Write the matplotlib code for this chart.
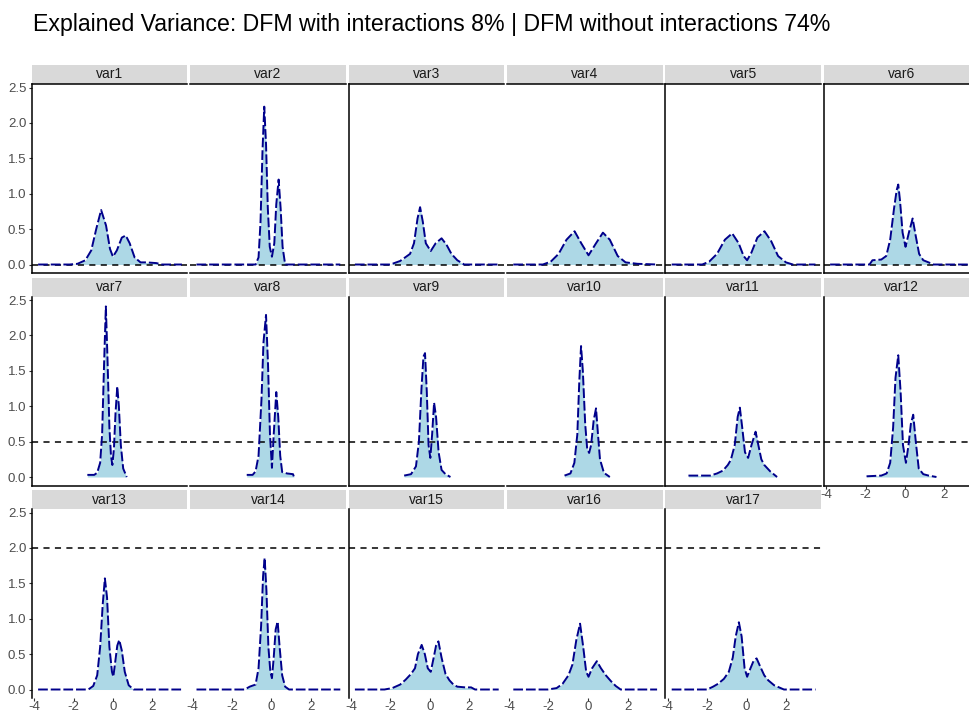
import matplotlib.pyplot as plt
from matplotlib.patches import Rectangle

plt.rcParams['font.family'] = ['Liberation Sans', 'DejaVu Sans']

title = "Explained Variance: DFM with interactions 8% | DFM without interactions 74%"

# density estimates per variable (x grid, density)
var1_x = [-3.8, -2.2, -1.8, -1.4, -1.1, -0.85, -0.6, -0.35, -0.15, 0.0, 0.2, 0.45, 0.65, 0.85, 1.1, 1.4, 1.7, 2.2, 2.5, 3.5]
var1_y = [0, 0, 0.01, 0.06, 0.2, 0.5, 0.77, 0.55, 0.22, 0.11, 0.2, 0.38, 0.41, 0.3, 0.1, 0.03, 0.03, 0.02, 0, 0]

var2_x = [-3.8, -0.8, -0.65, -0.55, -0.45, -0.36, -0.27, -0.18, -0.08, 0.03, 0.15, 0.25, 0.37, 0.47, 0.57, 0.7, 3.5]
var2_y = [0, 0, 0.1, 0.6, 1.6, 2.23, 1.7, 0.8, 0.25, 0.11, 0.3, 0.85, 1.2, 0.8, 0.25, 0, 0]

var3_x = [-3.8, -2.0, -1.5, -1.0, -0.8, -0.62, -0.49, -0.35, -0.2, 0.05, 0.3, 0.6, 0.85, 1.1, 1.4, 1.75, 3.5]
var3_y = [0, 0, 0.05, 0.15, 0.3, 0.65, 0.81, 0.6, 0.3, 0.19, 0.3, 0.37, 0.28, 0.15, 0.06, 0, 0]

var4_x = [-3.8, -2.3, -1.9, -1.5, -1.1, -0.69, -0.35, 0.02, 0.4, 0.75, 1.1, 1.5, 1.9, 2.5, 3.5]
var4_y = [0, 0, 0.04, 0.15, 0.35, 0.47, 0.3, 0.13, 0.3, 0.45, 0.35, 0.12, 0.03, 0.01, 0]

var5_x = [-3.8, -2.25, -1.9, -1.5, -1.1, -0.73, -0.4, -0.15, 0.03, 0.25, 0.55, 0.91, 1.25, 1.6, 2.0, 2.35, 3.5]
var5_y = [0, 0, 0.04, 0.15, 0.35, 0.44, 0.3, 0.12, 0.06, 0.17, 0.38, 0.47, 0.33, 0.12, 0.03, 0, 0]

var6_x = [-3.8, -1.8, -1.65, -1.2, -0.95, -0.75, -0.55, -0.42, -0.34, -0.25, -0.12, 0.03, 0.2, 0.39, 0.55, 0.72, 0.93, 1.2, 1.45, 3.5]
var6_y = [0, 0, 0.06, 0.07, 0.12, 0.35, 0.8, 1.05, 1.13, 0.9, 0.45, 0.25, 0.45, 0.65, 0.4, 0.15, 0.06, 0.03, 0, 0]

var7_x = [-1.3, -0.95, -0.8, -0.65, -0.55, -0.45, -0.36, -0.28, -0.18, -0.1, -0.03, 0.05, 0.13, 0.22, 0.3, 0.4, 0.52, 0.7]
var7_y = [0.03, 0.03, 0.06, 0.2, 0.6, 1.6, 2.41, 1.7, 0.7, 0.3, 0.17, 0.4, 0.9, 1.28, 1.0, 0.45, 0.12, 0.0]

var8_x = [-1.25, -0.95, -0.8, -0.65, -0.5, -0.4, -0.27, -0.17, -0.07, 0.03, 0.12, 0.25, 0.35, 0.45, 0.55, 0.8, 1.1, 1.15]
var8_y = [0.03, 0.03, 0.08, 0.3, 1.1, 1.9, 2.29, 1.6, 0.6, 0.13, 0.6, 1.2, 0.85, 0.3, 0.07, 0.05, 0.04, 0.0]

var9_x = [-1.3, -0.95, -0.7, -0.55, -0.42, -0.32, -0.24, -0.15, -0.06, 0.03, 0.12, 0.22, 0.32, 0.45, 0.6, 0.8, 1.05]
var9_y = [0.02, 0.04, 0.15, 0.5, 1.25, 1.7, 1.75, 1.2, 0.45, 0.27, 0.6, 1.05, 0.85, 0.35, 0.1, 0.04, 0.0]

var10_x = [-1.2, -0.9, -0.7, -0.55, -0.45, -0.36, -0.27, -0.15, -0.05, 0.05, 0.15, 0.28, 0.4, 0.5, 0.6, 0.8, 1.1]
var10_y = [0.02, 0.05, 0.2, 0.6, 1.35, 1.85, 1.5, 0.75, 0.4, 0.34, 0.45, 0.8, 0.97, 0.6, 0.25, 0.06, 0.0]

var11_x = [-2.95, -2.6, -1.85, -1.5, -1.2, -0.95, -0.8, -0.6, -0.45, -0.34, -0.22, -0.08, 0.08, 0.25, 0.46, 0.6, 0.75, 0.9, 1.2, 1.55]
var11_y = [0.02, 0.02, 0.02, 0.05, 0.09, 0.17, 0.24, 0.45, 0.85, 0.98, 0.7, 0.35, 0.27, 0.45, 0.64, 0.45, 0.25, 0.17, 0.08, 0.0]

var12_x = [-1.95, -1.2, -0.93, -0.75, -0.6, -0.48, -0.34, -0.22, -0.1, 0.05, 0.18, 0.3, 0.42, 0.55, 0.7, 0.93, 1.2, 1.6]
var12_y = [0.01, 0.02, 0.05, 0.2, 0.7, 1.4, 1.72, 1.2, 0.45, 0.2, 0.45, 0.75, 0.88, 0.5, 0.12, 0.04, 0.02, 0.0]

var13_x = [-3.8, -1.25, -1.0, -0.8, -0.65, -0.52, -0.41, -0.3, -0.18, -0.05, 0.02, 0.12, 0.22, 0.32, 0.45, 0.6, 0.8, 1.05, 3.5]
var13_y = [0, 0, 0.05, 0.2, 0.6, 1.2, 1.57, 1.3, 0.6, 0.25, 0.18, 0.4, 0.62, 0.7, 0.55, 0.25, 0.06, 0, 0]

var14_x = [-3.8, -1.35, -1.1, -0.8, -0.65, -0.52, -0.42, -0.34, -0.25, -0.15, -0.05, 0.03, 0.12, 0.22, 0.32, 0.42, 0.55, 0.7, 0.9, 3.5]
var14_y = [0, 0, 0.04, 0.07, 0.3, 0.9, 1.6, 1.86, 1.4, 0.6, 0.25, 0.16, 0.45, 0.85, 0.96, 0.6, 0.2, 0.04, 0, 0]

var15_x = [-3.8, -2.3, -1.9, -1.5, -1.22, -0.95, -0.75, -0.6, -0.41, -0.25, -0.1, 0.05, 0.2, 0.32, 0.44, 0.6, 0.8, 1.0, 1.2, 1.4, 1.8, 2.1, 2.3, 3.5]
var15_y = [0, 0, 0.02, 0.07, 0.14, 0.22, 0.3, 0.5, 0.63, 0.5, 0.3, 0.25, 0.45, 0.62, 0.68, 0.45, 0.22, 0.13, 0.07, 0.04, 0.03, 0.03, 0, 0]

var16_x = [-3.8, -2.05, -1.6, -1.3, -1.0, -0.8, -0.6, -0.41, -0.25, -0.1, 0.02, 0.2, 0.44, 0.65, 0.9, 1.15, 1.4, 1.65, 3.5]
var16_y = [0, 0, 0.02, 0.08, 0.2, 0.35, 0.7, 0.93, 0.6, 0.25, 0.18, 0.3, 0.4, 0.3, 0.2, 0.12, 0.05, 0, 0]

var17_x = [-3.8, -2.0, -1.7, -1.45, -1.15, -0.9, -0.7, -0.55, -0.39, -0.25, -0.1, 0.03, 0.2, 0.35, 0.51, 0.7, 0.9, 1.1, 1.4, 1.9, 3.5]
var17_y = [0, 0, 0.04, 0.08, 0.15, 0.25, 0.45, 0.75, 0.95, 0.75, 0.3, 0.18, 0.3, 0.4, 0.44, 0.32, 0.2, 0.13, 0.06, 0, 0]

names = [f"var{i}" for i in range(1, 18)]
curves = [(var1_x, var1_y), (var2_x, var2_y), (var3_x, var3_y), (var4_x, var4_y),
          (var5_x, var5_y), (var6_x, var6_y), (var7_x, var7_y), (var8_x, var8_y),
          (var9_x, var9_y), (var10_x, var10_y), (var11_x, var11_y), (var12_x, var12_y),
          (var13_x, var13_y), (var14_x, var14_y), (var15_x, var15_y), (var16_x, var16_y),
          (var17_x, var17_y)]

# reference level drawn in each row of panels
hline_levels = [0.0, 0.5, 2.0]

x_ticks = [-4, -2, 0, 2]
y_ticks = [0.0, 0.5, 1.0, 1.5, 2.0, 2.5]

# layout in pixels
W, H = 969, 718
ncol = 6
col_left0, col_pitch, panel_w = 31.8, 158.4, 155.6
row_top0, row_pitch, panel_h = 84.0, 212.5, 189.0
strip_h = 19.0

fig = plt.figure(figsize=(W / 100, H / 100), dpi=100)
fig.patch.set_facecolor('white')

for i, (name, (xs, ys)) in enumerate(zip(names, curves)):
    r, c = divmod(i, ncol)
    left = col_left0 + c * col_pitch
    top = row_top0 + r * row_pitch
    ax = fig.add_axes([left / W, 1 - (top + panel_h) / H, panel_w / W, panel_h / H])
    ax.set_xlim(-4.12, 3.78)
    ax.set_ylim(-0.12, 2.55)

    ax.fill_between(xs, ys, 0, color='#ADD8E6', lw=0, zorder=1)
    ax.axhline(hline_levels[r], color='black', lw=1.1, ls=(0, (4, 3.5)), zorder=2)
    ax.plot(xs, ys, color='#00008B', lw=1.4, ls=(0, (5, 1.5)), zorder=3)

    # axis lines
    ax.spines['right'].set_visible(False)
    ax.spines['top'].set_visible(r == 0)
    ax.spines['bottom'].set_visible(r < 2)
    ax.spines['left'].set_visible(c in (0, 2, 4, 5))
    for s in ax.spines.values():
        s.set_linewidth(1.1)
        s.set_color('black')

    ax.set_xticks(x_ticks)
    ax.set_yticks(y_ticks)
    show_x = (r == 2) or (i + ncol >= len(names))
    show_y = c == 0
    ax.set_xticklabels([str(t) for t in x_ticks] if show_x else [])
    ax.set_yticklabels([f"{t:.1f}" for t in y_ticks] if show_y else [])
    ax.tick_params(axis='x', length=2 if show_x else 0, color='#333333',
                   labelsize=9.5, labelcolor='#4D4D4D', pad=0.5)
    ax.tick_params(axis='y', length=2.5 if show_y else 0, color='#333333',
                   labelsize=9.5, labelcolor='#4D4D4D', pad=1.5)

    # facet strip
    sh = strip_h / panel_h
    ax.add_patch(Rectangle((0, 1), 1, sh, transform=ax.transAxes, clip_on=False,
                           facecolor='#D9D9D9', edgecolor='none', zorder=0))
    ax.text(0.5, 1 + sh / 2, name, transform=ax.transAxes, ha='center', va='center',
            fontsize=10, color='#1A1A1A')

fig.text(33 / W, 1 - 25 / H, title, fontsize=16.7, ha='left', va='center', color='black')

fig.savefig('out.png', dpi=100)
